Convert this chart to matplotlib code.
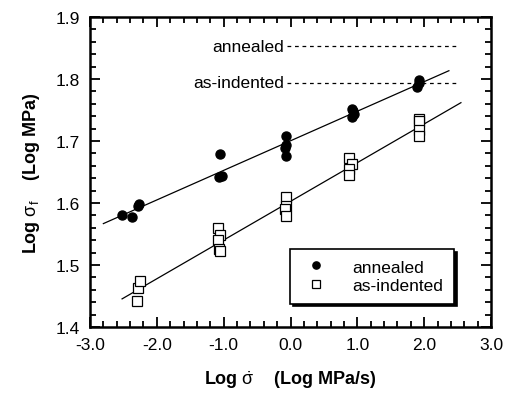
import numpy as np
import matplotlib
matplotlib.use("Agg")
import matplotlib.pyplot as plt
from matplotlib.ticker import MultipleLocator, FormatStrFormatter

plt.rcParams['font.family'] = ['Liberation Sans', 'DejaVu Sans']
plt.rcParams['mathtext.fontset'] = 'custom'
plt.rcParams['mathtext.rm'] = 'Liberation Sans'
plt.rcParams['mathtext.it'] = 'Liberation Sans'
plt.rcParams['mathtext.bf'] = 'Liberation Sans:bold'

# annealed data
ann_x = [-2.52, -2.37, -2.28, -2.26, -1.05, -1.07, -1.03, -0.07, -0.07, -0.08, -0.07,
         0.92, 0.93, 0.95, 0.92, 1.93, 1.93, 1.90]
ann_y = [1.581, 1.577, 1.595, 1.598, 1.679, 1.642, 1.643, 1.708, 1.694, 1.689, 1.676,
         1.752, 1.748, 1.744, 1.739, 1.798, 1.794, 1.787]
# as-indented data
ind_x = [-2.30, -2.28, -2.25, -1.08, -1.05, -1.08, -1.07, -1.05, -0.07, -0.07, -0.08, -0.07,
         0.88, 0.92, 0.88, 0.88, 1.93, 1.92, 1.92, 1.92]
ind_y = [1.442, 1.463, 1.474, 1.560, 1.548, 1.540, 1.526, 1.522, 1.610, 1.595, 1.590, 1.579,
         1.672, 1.663, 1.655, 1.645, 1.735, 1.733, 1.718, 1.708]

ann_fit_range = [-2.8, 2.37]
ind_fit_range = [-2.52, 2.55]

ref_labels = ['annealed', 'as-indented']
ref_y = [1.853, 1.794]
ref_x = [-0.05, 2.5]

fig = plt.figure(figsize=(5.11, 4.10), dpi=100)
ax = fig.add_axes([90/511, 1-328/410, 401/511, 310/410])

# fits
for xs, ys, rng in [(ann_x, ann_y, ann_fit_range), (ind_x, ind_y, ind_fit_range)]:
    m, b = np.polyfit(xs, ys, 1)
    xx = np.array(rng)
    ax.plot(xx, m*xx + b, color='black', lw=0.9, zorder=2)

ax.plot(ann_x, ann_y, 'o', color='black', ms=6.5, zorder=3, label='annealed', linestyle='none')
ax.plot(ind_x, ind_y, 's', mfc='white', mec='black', mew=0.9, ms=6.5, zorder=3,
        label='as-indented', linestyle='none')

for lab, yv in zip(ref_labels, ref_y):
    ax.plot(ref_x, [yv, yv], color='black', lw=0.9, dashes=(3, 3), zorder=1)
    ax.text(ref_x[0] - 0.05, yv, lab, ha='right', va='center', fontsize=12.5)

ax.set_xlim(-3, 3)
ax.set_ylim(1.4, 1.9)
ax.xaxis.set_major_locator(MultipleLocator(1.0))
ax.xaxis.set_minor_locator(MultipleLocator(0.2))
ax.yaxis.set_major_locator(MultipleLocator(0.1))
ax.yaxis.set_minor_locator(MultipleLocator(0.02))
ax.xaxis.set_major_formatter(FormatStrFormatter('%.1f'))
ax.yaxis.set_major_formatter(FormatStrFormatter('%.1f'))
ax.tick_params(which='both', direction='in', top=True, right=True, width=1.3)
ax.tick_params(which='major', length=7, labelsize=12.5, pad=7)
ax.tick_params(which='minor', length=4)
for s in ax.spines.values():
    s.set_linewidth(1.8)

ax.set_xlabel(r'Log $\dot{\sigma}$    (Log MPa/s)', fontsize=13, fontweight='bold', labelpad=12)
ax.set_ylabel(r'Log $\sigma_f$    (Log MPa)', fontsize=13, fontweight='bold', labelpad=10)

leg = ax.legend(loc='upper left', bbox_to_anchor=(200/401, 78/310), fancybox=False,
                shadow={'facecolor': 'black', 'edgecolor': 'black', 'alpha': 1.0},
                edgecolor='black', framealpha=1, fontsize=12.5, handletextpad=1.2,
                borderpad=0.6, labelspacing=0.2, handlelength=1.8, borderaxespad=0,
                markerscale=0.8)
leg.get_frame().set_linewidth(1.2)

fig.savefig('out.png', dpi=100)
